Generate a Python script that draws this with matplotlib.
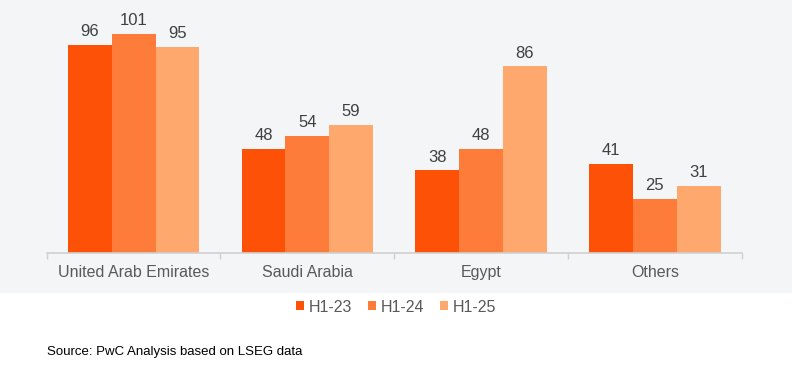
import numpy as np
import matplotlib.pyplot as plt
from matplotlib.patches import Rectangle

plt.rcParams["font.family"] = ["Liberation Sans", "DejaVu Sans"]

categories = ["United Arab Emirates", "Saudi Arabia", "Egypt", "Others"]
series_names = ["H1-23", "H1-24", "H1-25"]
h1_23 = [96, 48, 38, 41]
h1_24 = [101, 54, 48, 25]
h1_25 = [95, 59, 86, 31]
colors = ["#FE5108", "#FE7C3A", "#FFA86E"]

fig = plt.figure(figsize=(7.92, 3.75), dpi=100)
band = Rectangle((0, 0.2187), 1, 1 - 0.2187, transform=fig.transFigure,
                 facecolor="#F4F5F7", edgecolor="none", zorder=-5)
fig.add_artist(band)
ax = fig.add_axes([0.059, 0.3261, 0.8776, 0.6355])
ax.set_facecolor("none")

x = np.arange(len(categories))
width = 0.252
for i, (vals, name, c) in enumerate(zip([h1_23, h1_24, h1_25], series_names, colors)):
    pos = x + (i - 1) * width
    ax.bar(pos, vals, width=width, color=c, label=name, zorder=2)
    for p, v in zip(pos, vals):
        ax.text(p, v + 2.5, str(v), ha="center", va="bottom", fontsize=12, color="#404040")

ax.set_xlim(-0.5, len(categories) - 0.5)
ax.set_ylim(0, 110)
ax.set_yticks([])
for s in ["top", "right", "left"]:
    ax.spines[s].set_visible(False)
ax.spines["bottom"].set_color("#D0D0D0")
ax.spines["bottom"].set_linewidth(1.2)
ax.spines["bottom"].set_zorder(3)

ax.set_xticks(np.arange(len(categories) + 1) - 0.5)
ax.set_xticklabels([])
ax.tick_params(axis="x", which="major", length=4, color="#D0D0D0", width=1)
ax.set_xticks(x, minor=True)
ax.set_xticklabels(categories, minor=True, fontsize=11.5, color="#595959")
ax.tick_params(axis="x", which="minor", length=0, pad=9)

fig.legend(loc="center", bbox_to_anchor=(0.5, 1 - 307 / 375), ncol=3, frameon=False,
           fontsize=11.5, handlelength=0.5, handleheight=0.5, handletextpad=0.3,
           columnspacing=1.0, labelcolor="#595959")

fig.text(46.7 / 792, 1 - 352 / 375, "Source: PwC Analysis based on LSEG data",
         fontsize=9.5, color="#000000", va="center", ha="left")

fig.savefig("out.png", dpi=100)
